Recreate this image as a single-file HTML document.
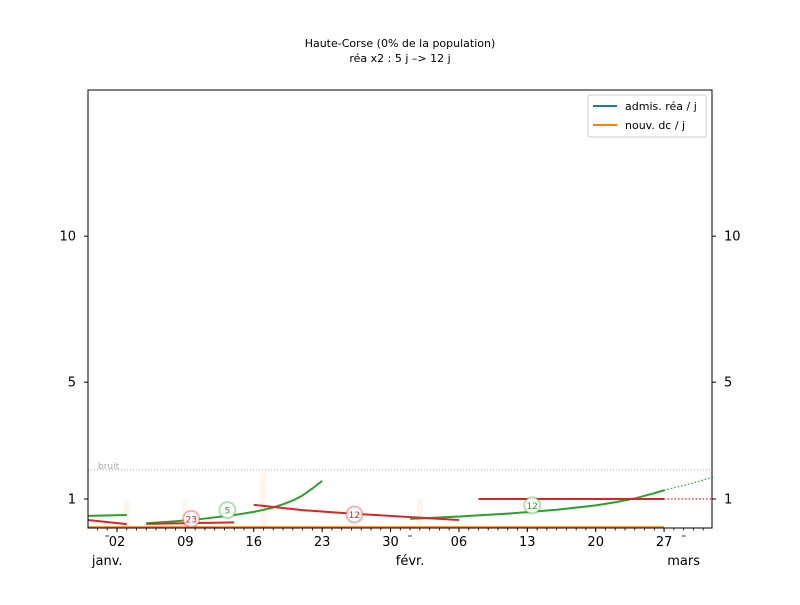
<!DOCTYPE html>
<html><head><meta charset="utf-8"><style>
body{margin:0;background:#fff;font-family:"Liberation Sans","DejaVu Sans",sans-serif}
</style></head><body>
<svg id="c" width="800" height="600" xmlns="http://www.w3.org/2000/svg" font-family="DejaVu Sans, Liberation Sans, sans-serif">
<rect width="800" height="600" fill="#fff"/>
<text x="400" y="47" font-size="11" text-anchor="middle">Haute-Corse (0% de la population)</text>
<text x="400" y="62" font-size="11" text-anchor="middle">réa x2 : 5 j –&gt; 12 j</text>
<g id="plot"></g>
<rect x="88" y="90" width="624" height="438" fill="none" stroke="#000" stroke-width="1"/>
<g>
<rect x="588" y="95" width="118" height="42" fill="#fff" stroke="#ccc" rx="2"/>
<line x1="593" y1="106" x2="617" y2="106" stroke="#1f77b4" stroke-width="2"/>
<text x="625" y="110" font-size="11">admis. réa / j</text>
<line x1="593" y1="125" x2="617" y2="125" stroke="#ff7f0e" stroke-width="2"/>
<text x="625" y="129" font-size="11">nouv. dc / j</text>
</g>
</svg>
<script>
const yTicks=[1,5,10];
const majorDays=[1,8,15,22,29,36,43,50,57];
const majorLabels=["02","09","16","23","30","06","13","20","27"];
const monthDays=[0,31,59];
const monthLabels=["janv.","févr.","mars"];
const barDays=[2,8,16,32];
const barVals=[1.0,1.0,1.9,1.0];
const noise=[2.0];
const orangeDays=[-2,57];
const orangeVals=[0.04,0.04];
const g1Days=[-2,2];const g1Vals=[0.42,0.45];
const g2Days=[4,7,10,13,15,16,17,18,19,20,21,22];const g2Vals=[0.17,0.24,0.33,0.45,0.56,0.63,0.71,0.82,0.95,1.12,1.36,1.62];
const g3Days=[31,36,41,46,50,52,54,56,57];const g3Vals=[0.32,0.4,0.5,0.63,0.78,0.89,1.02,1.2,1.3];
const g3pDays=[57,60,62];const g3pVals=[1.3,1.55,1.75];
const r1Days=[-2,2];const r1Vals=[0.28,0.14];
const r2Days=[4,13];const r2Vals=[0.15,0.2];
const r3Days=[15,20,25,30,36];const r3Vals=[0.8,0.62,0.5,0.4,0.28];
const r4Days=[38,57];const r4Vals=[1.0,1.0];
const r4pDays=[57,62];const r4pVals=[1.0,1.0];
const badgeDays=[8.6,12.3,25.3,43.5];const badgeVals=[0.32,0.62,0.47,0.78];const badgeText=["23","5","12","12"];const badgeCol=["#d62728","#2ca02c","#d62728","#2ca02c"];

const X=d=>107.2+9.77*d, Y=v=>528.2-29.2*v;
const NS="http://www.w3.org/2000/svg",P=document.getElementById('plot'),S=document.getElementById('c');
function mk(t,a,par){const e=document.createElementNS(NS,t);for(const k in a)e.setAttribute(k,a[k]);(par||P).appendChild(e);return e;}
barDays.forEach((d,i)=>{const r=mk('rect',{x:X(d)-3,y:Y(barVals[i]),width:6,height:528-Y(barVals[i]),fill:'#ff7f0e','fill-opacity':0.08});

});
noise.forEach(v=>{const l=mk('line',{x1:88,x2:712,y1:Y(v),y2:Y(v),stroke:'#999','stroke-width':0.8,'stroke-dasharray':'1,2'});


const t=mk('text',{x:98,y:Y(v)-1,'font-size':9,fill:'#aaa'});t.textContent='bruit';

});
function line(ds,vs,col,name,dash,w){const p=mk('polyline',{points:ds.map((d,i)=>X(d)+','+Y(vs[i])).join(' '),fill:'none',stroke:col,'stroke-width':w||(dash?1.2:2),'stroke-dasharray':dash?'1.5,2':'none','stroke-linejoin':'round'});

}
line(orangeDays,orangeVals,'#ff7f0e','dc-line',false,1.5);
line(g1Days,g1Vals,'#2ca02c','rea-trend-1');
line(g2Days,g2Vals,'#2ca02c','rea-trend-2');
line(g3Days,g3Vals,'#2ca02c','rea-trend-3');
line(g3pDays,g3pVals,'#2ca02c','rea-projection',true);
line(r1Days,r1Vals,'#d62728','dc-trend-1');
line(r2Days,r2Vals,'#d62728','dc-trend-2');
line(r3Days,r3Vals,'#d62728','dc-trend-3');
line(r4Days,r4Vals,'#d62728','dc-trend-4');
line(r4pDays,r4pVals,'#d62728','dc-projection',true);
badgeDays.forEach((d,i)=>{const c=mk('circle',{cx:X(d),cy:Y(badgeVals[i]),r:8,fill:'#fff',stroke:badgeCol[i],'stroke-opacity':0.35,'stroke-width':2});


const t=mk('text',{x:X(d),y:Y(badgeVals[i])+3.5,'font-size':9,fill:badgeCol[i],'text-anchor':'middle'});t.textContent=badgeText[i];

});
yTicks.forEach(v=>{[[88,-4,'end',76],[712,4,'start',724]].forEach(([x,dx,an,tx])=>{const l=mk('line',{x1:x,x2:x+dx,y1:Y(v),y2:Y(v),stroke:'#000'},S);


const t=mk('text',{x:tx,y:Y(v)+4.5,'font-size':13,'text-anchor':an==='end'?'end':'start'},S);t.textContent=v;

});});
for(let d=-1;d<=61;d++){const l=mk('line',{x1:X(d),x2:X(d),y1:528,y2:530.5,stroke:'#000','stroke-width':0.8},S);

}
majorDays.forEach((d,i)=>{const l=mk('line',{x1:X(d),x2:X(d),y1:528,y2:532,stroke:'#000'},S);


const t=mk('text',{x:X(d),y:546,'font-size':13,'text-anchor':'middle'},S);t.textContent=majorLabels[i];

});
monthDays.forEach((d,i)=>{const l=mk('line',{x1:X(d)-2,x2:X(d)+2,y1:536,y2:536,stroke:'#000','stroke-width':0.8},S);


const t=mk('text',{x:X(d),y:565,'font-size':13,'text-anchor':'middle'},S);t.textContent=monthLabels[i];

});
</script>
</body></html>
